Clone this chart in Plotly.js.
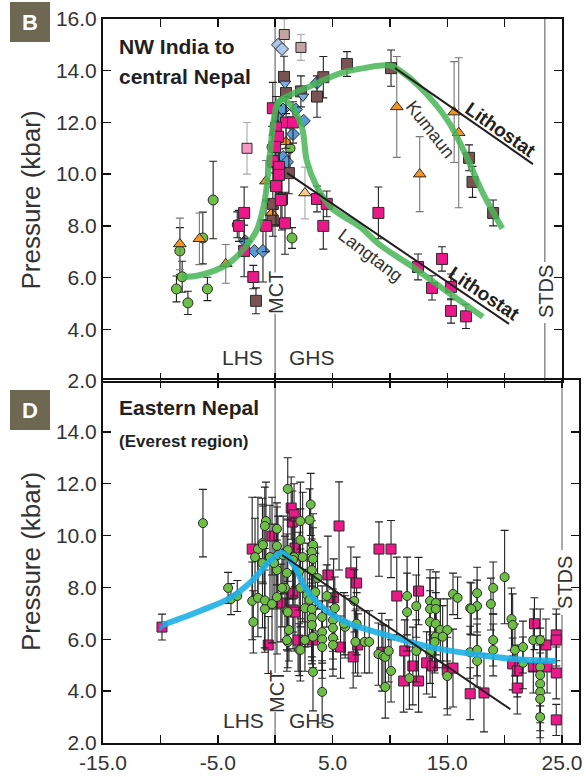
<!DOCTYPE html>
<html><head><meta charset="utf-8">
<script src="https://cdn.plot.ly/plotly-3.0.1.min.js"></script>
<style>html,body{margin:0;padding:0;background:#fff}#chart{width:586px;height:777px}</style>
</head><body><div id="chart"></div>
<script>
// ---------------- Panel B (NW India to central Nepal) ----------------
const bGreenX = [-8.6,-8.1,-8.3,-7.6,-5.9,-6.3,-5.4,-3.3,1.47,-0.27,1.3];
const bGreenY = [5.56,6.03,7.03,5.02,5.56,7.53,9.0,8.04,7.53,11.05,11.0];
const bGreenE = [0.5,0.6,0.9,0.45,0.45,1.0,1.5,0.5,0.4,0.8,0.8];

const bMagX = [-2.7,-3.15,-2.7,-1.9,-0.8,0.07,0.6,0.86,3.65,4.5,4.2,9.0,12.45,14.54,13.67,15.33,15.33,16.63,
               -0.2,0.95,1.56,0.07,0.25,0.0,-0.2,0.34,0.34,0.5];
const bMagY = [8.5,8.0,7.03,6.02,8.0,9.54,9.04,8.1,9.04,8.85,8.0,8.5,6.41,6.72,5.6,5.64,4.71,4.5,
               12.55,12.0,12.0,11.8,11.45,11.05,10.5,10.28,9.97,9.0];
const bMagE = [1.0,0.6,1.0,0.45,1.0,1.5,1.2,1.2,0.5,0.5,0.9,1.0,0.5,0.47,0.47,0.5,0.47,0.47,
               1.0,1.0,0.8,1.2,1.2,1.0,1.0,1.0,1.0,1.0];

const bBrownX = [6.26,10.1,4.2,3.65,2.25,0.77,0.95,1.2,-0.2,-0.2,-1.67,16.9,17.2,19.0];
const bBrownY = [14.26,14.1,13.75,13.0,13.2,13.76,13.14,10.04,8.85,8.2,5.1,10.63,9.7,8.5];
const bBrownE = [0.48,0.7,0.8,0.8,0.6,0.8,0.8,0.8,0.8,0.6,0.5,0.5,0.6,0.5];

const bOrangeX = [10.6,15.6,16.0,12.6,0.95,-0.8,-0.3,-8.3,-6.6,-4.3];
const bOrangeY = [12.6,12.4,11.6,10.0,11.25,9.73,8.5,7.3,7.5,6.53];
const bOrangeE = [1.95,1.95,2.9,1.45,0.8,0.8,0.5,1.0,1.0,0.75];

const bDiamondX = [3.65,0.69,1.8,2.5,0.4,1.56,0.7,1.03,-2.6,-1.8,-1.06];
const bDiamondY = [13.53,12.5,12.5,12.06,12.1,11.55,10.66,10.47,7.4,7.03,7.03];
const bDiamondE = [0,0,0,0,0,0,0,0,0,0,1.2];

const bDownTriX = [0.86,2.43];
const bDownTriY = [13.5,13.0];

const bPaleSqX = [-2.45];  const bPaleSqY = [11.0];  const bPaleSqE = [1.0];
const bPaleBrX = [0.8,2.25]; const bPaleBrY = [15.4,14.9]; const bPaleBrE = [0.6,0.5];
const bPaleDiaX = [0.25,0.6]; const bPaleDiaY = [15.0,14.84];
const bPaleTriX = [2.6]; const bPaleTriY = [9.27]; const bPaleTriE = [1.0];

const kumaunX = [-8.1,-6.5,-4.2,-2.8,-1.6,-0.9,-0.45,-0.2,0.25,1.3,3.3,5.65,7.7,10.0,11.2,12.6,15.0,16.7,18.1,19.8];
const kumaunY = [6.02,6.1,6.5,7.07,7.84,9.0,10.8,11.8,12.75,13.06,13.45,13.9,14.1,14.2,13.9,13.37,12.1,10.66,9.27,7.9];
const langtangX = [0.0,0.6,1.47,2.34,2.77,3.65,4.9,7.4,9.14,12.0,15.0,18.1];
const langtangY = [12.5,12.9,12.6,11.8,10.5,9.5,8.7,7.96,7.26,6.41,5.45,4.48];
const lithKumaunX = [10.45,22.47]; const lithKumaunY = [14.1,10.39];
const lithLangX = [1.03,20.38];    const lithLangY = [10.05,4.21];

// ---------------- Panel D (Eastern Nepal, Everest region) ----------------
const dGreenX = [-6.29,-4.1,-3.85,-3.3,-2.0,-1.9,-1.5,-0.9,-0.9,-0.27,0.16,0.16,0.86,1.03,1.1,2.1,1.1,3.1,3.0,2.2,
  -0.8,-0.9,0.16,-1.1,-1.5,-1.75,-1.1,1.1,3.3,3.2,2.2,-0.45,0.25,1.65,2.4,3.3,-0.1,1.03,2.1,3.2,
  3.7,4.5,0.6,2.2,2.8,3.5,3.0,1.1,2.6,3.2,4.1,5.04,3.2,3.2,5.04,4.1,2.6,4.1,5.04,4.1,
  5.04,2.2,3.3,4.1,-1.06,0.16,1.56,0.7,6.9,5.2,6.1,11.5,12.3,11.5,13.5,14.0,13.5,14.0,13.5,14.0,
  14.4,15.0,14.0,14.6,13.9,15.5,15.9,17.0,17.6,17.6,17.0,17.6,7.8,8.2,7.0,9.0,9.4,9.6,9.9,9.6,
  10.1,12.3,11.7,15.0,13.5,20.0,19.0,18.8,20.6,20.7,22.5,23.1,19.0,19.0,20.9,21.6,17.6,21.6,23.1,23.1,
  23.1,23.1,23.1,23.1,17.1,7.1,6.0,3.3,1.03,1.2];
const dGreenY = [10.48,7.98,7.55,7.67,7.48,6.67,7.6,7.17,7.5,7.36,7.63,8.67,7.98,7.09,5.9,5.6,11.8,11.2,10.6,10.56,
  10.56,10.37,10.26,9.71,9.48,9.17,8.94,9.44,9.64,9.37,9.83,9.17,9.25,9.17,9.17,9.1,8.94,8.56,8.63,8.67,
  8.36,7.67,7.98,7.98,7.71,7.82,7.52,7.05,7.2,7.17,6.86,6.74,6.82,6.55,6.44,6.28,5.97,6.0,6.05,5.7,
  5.78,5.59,4.74,3.97,9.64,9.6,9.06,9.25,7.48,7.2,6.48,7.67,7.28,7.05,7.48,7.4,7.17,7.17,6.67,6.6,
  6.36,6.36,6.1,6.1,5.9,7.75,7.6,7.2,7.28,7.78,5.5,5.16,5.9,5.9,5.9,5.43,5.36,5.32,5.55,4.16,
  4.78,5.55,4.5,4.58,5.5,8.4,7.98,7.36,6.78,6.55,5.97,5.97,5.97,5.59,5.59,5.7,5.59,5.09,4.93,4.62,
  4.28,3.97,3.7,3.0,7.17,6.6,6.6,6.1,5.97,6.36];
const dGreenE = [1.3,0.6,0.6,0.6,1.5,1.2,1.5,1.5,2.0,1.5,2.2,1.5,2.0,1.5,1.0,1.0,1.2,1.2,1.2,1.5,
  1.5,1.5,1.0,1.5,2.0,1.5,2.5,1.2,1.2,1.2,1.2,2.0,1.5,1.5,2.5,1.2,1.5,1.5,1.5,1.2,
  1.2,1.2,1.5,1.5,2.0,1.5,1.5,1.5,1.5,2.0,1.2,1.2,1.5,1.5,1.2,1.2,1.2,1.2,1.2,1.2,
  1.2,1.2,1.5,1.2,1.5,1.5,1.5,1.5,1.2,1.2,1.2,1.5,1.2,1.5,1.2,1.2,1.2,1.2,1.2,1.2,
  1.2,1.2,1.2,1.2,1.2,0.8,0.8,1.0,1.0,1.0,1.0,1.0,1.2,1.2,1.2,1.2,1.2,1.2,1.2,1.2,
  1.2,1.2,1.2,1.5,1.2,1.8,1.0,1.0,1.2,1.2,1.2,1.2,1.0,1.0,1.0,1.0,1.0,1.0,1.5,1.5,
  1.5,1.5,1.5,1.2,1.0,1.2,1.2,1.2,1.2,1.2];

const dMagX = [-9.86,-0.6,0.5,1.56,1.56,2.0,1.4,1.65,1.5,-0.27,-2.0,1.73,4.6,5.1,5.57,1.73,3.3,5.7,9.05,10.1,
  6.6,7.1,10.6,12.5,6.8,7.2,9.3,11.3,12.0,11.2,12.5,13.2,13.7,15.0,15.5,17.0,18.2,22.6,23.6,24.5,
  24.5,20.7,21.1,22.5,23.7,24.5,24.5,21.1];
const dMagY = [6.47,5.78,7.4,7.13,7.78,5.97,11.06,10.8,10.52,9.98,9.48,9.52,8.48,7.6,10.37,7.05,5.97,5.7,9.48,9.48,
  8.56,8.17,7.67,7.86,5.32,5.78,5.5,5.55,4.97,4.39,4.39,5.09,4.97,4.82,4.89,3.9,3.93,6.6,5.78,6.17,
  5.97,5.05,4.78,4.93,4.93,4.7,2.89,4.12];
const dMagE = [0.5,1.1,1.5,1.5,1.5,1.2,1.2,1.2,1.2,1.5,2.0,1.5,1.5,1.5,1.7,1.5,1.2,1.2,1.05,1.1,
  1.0,1.0,1.5,1.3,1.2,1.2,1.5,1.2,1.5,1.2,1.2,1.2,1.2,1.5,1.5,1.0,1.5,1.0,1.0,1.0,
  1.0,1.0,1.0,1.0,1.0,1.0,0.6,1.0];
const dBlueHalfX = [-9.86]; const dBlueHalfY = [6.47];

const dCurveX = [-9.8,-6.5,-3.9,-1.9,-0.6,0.6,1.7,2.6,3.6,4.8,6.5,9.1,13.5,17.9,20.7,24.5];
const dCurveY = [6.55,7.1,7.6,8.3,8.95,9.33,8.8,8.0,7.45,7.0,6.6,6.24,5.7,5.39,5.24,5.16];
const dLithX = [0.6,20.5]; const dLithY = [9.25,3.3];

const xTickVals = [-15,-10,-5,0,5,10,15,20,25];
const xTickText = ['-15.0','','-5.0','','5.0','','15.0','','25.0'];

// ---------------- build ----------------
const OUT = '#2b2b2b';
function pts(x, y, e, xa, ya, symbol, color, size, ecolor) {
  const t = {x, y, xaxis: xa, yaxis: ya, type: 'scatter', mode: 'markers', hoverinfo: 'x+y',
    marker: {symbol, color, size, line: {color: OUT, width: 1}}};
  if (e) t.error_y = {type: 'data', array: e, visible: true, color: ecolor || '#222', thickness: 1.1, width: 4};
  return t;
}
function line(x, y, xa, ya, color, width, shape) {
  return {x, y, xaxis: xa, yaxis: ya, type: 'scatter', mode: 'lines', hoverinfo: 'skip',
    line: {color, width, shape: shape || 'linear', smoothing: 1}};
}
const GREEN = '#6dbe45', MAG = '#ea1889', BROWN = '#7a5252', ORANGE = '#f7941d', BLUE = '#5b9bd5';
const traces = [
  pts(bPaleSqX, bPaleSqY, bPaleSqE, 'x', 'y', 'square', '#f49ac1', 10, '#aaa'),
  pts(bPaleBrX, bPaleBrY, bPaleBrE, 'x', 'y', 'square', '#c4a3a3', 10, '#aaa'),
  pts(bPaleDiaX, bPaleDiaY, null, 'x', 'y', 'diamond', '#aec8ea', 10),
  pts(bPaleTriX, bPaleTriY, bPaleTriE, 'x', 'y', 'triangle-up', '#fcc98c', 11, '#aaa'),
  pts(bGreenX, bGreenY, bGreenE, 'x', 'y', 'circle', GREEN, 10),
  pts(bOrangeX, bOrangeY, bOrangeE, 'x', 'y', 'triangle-up', ORANGE, 11, '#777'),
  pts(bDiamondX, bDiamondY, bDiamondE, 'x', 'y', 'diamond', BLUE, 10),
  pts(bBrownX, bBrownY, bBrownE, 'x', 'y', 'square', BROWN, 11),
  pts(bMagX, bMagY, bMagE, 'x', 'y', 'square', MAG, 11),
  pts(bDownTriX, bDownTriY, null, 'x', 'y', 'triangle-down', '#7ab0e6', 10),
  line(kumaunX, kumaunY, 'x', 'y', 'rgba(72,181,85,0.85)', 6, 'spline'),
  line(langtangX, langtangY, 'x', 'y', 'rgba(72,181,85,0.85)', 6, 'spline'),
  line(lithKumaunX, lithKumaunY, 'x', 'y', '#231f20', 2),
  line(lithLangX, lithLangY, 'x', 'y', '#231f20', 2),
  pts(dMagX, dMagY, dMagE, 'x2', 'y2', 'square', MAG, 10),
  pts(dBlueHalfX, dBlueHalfY, null, 'x2', 'y2', 'triangle-nw', '#3f8fd0', 8),
  pts(dGreenX, dGreenY, dGreenE, 'x2', 'y2', 'circle', GREEN, 9),
  line(dCurveX, dCurveY, 'x2', 'y2', 'rgba(30,176,230,0.9)', 6, 'spline'),
  line(dLithX, dLithY, 'x2', 'y2', '#231f20', 2)
];
traces[15].marker.line.width = 0;

const PX = x => (x - 103) / 476, PY = y => (743 - y) / 724;
const FONT = 'Liberation Sans, Arial, Helvetica, sans-serif';
const TXT = '#333';
function ann(text, x, y, size, opts) {
  return Object.assign({text, x: PX(x), y: PY(y), xref: 'paper', yref: 'paper', showarrow: false,
    font: {family: FONT, size, color: TXT}, xanchor: 'center', yanchor: 'middle'}, opts || {});
}
const DARK = '#231f20';
const annotations = [
  ann('<b>NW India to</b>', 117, 46, 21, {xanchor: 'left', font: {family: FONT, size: 21, color: DARK}}),
  ann('<b>central Nepal</b>', 117, 77, 21, {xanchor: 'left', font: {family: FONT, size: 21, color: DARK}}),
  ann('<b>Eastern Nepal</b>', 117, 408, 21, {xanchor: 'left', font: {family: FONT, size: 21, color: DARK}}),
  ann('<b>(Everest region)</b>', 117, 441, 17, {xanchor: 'left', font: {family: FONT, size: 17, color: DARK}}),
  ann('<b>B</b>', 30, 22, 22, {font: {family: FONT, size: 22, color: '#fff'}}),
  ann('<b>D</b>', 30, 410, 22, {font: {family: FONT, size: 22, color: '#fff'}}),
  ann('MCT', 276, 293, 20, {textangle: -90}),
  ann('STDS', 546, 292, 20, {textangle: -90}),
  ann('LHS', 242, 357, 21), ann('GHS', 312, 357, 21),
  ann('MCT', 277, 692, 20, {textangle: -90}),
  ann('STDS', 565, 583, 20, {textangle: -90}),
  ann('LHS', 243, 720, 21), ann('GHS', 312, 720, 21),
  ann('Kumaun', 430, 129, 18, {textangle: 52}),
  ann('Langtang', 370, 255, 18, {textangle: 37}),
  ann('<b>Lithostat</b>', 500, 130, 19, {textangle: 35, font: {family: FONT, size: 19, color: DARK}}),
  ann('<b>Lithostat</b>', 484, 293, 19, {textangle: 34, font: {family: FONT, size: 19, color: DARK}})
];
const GRAY = '#8c8c8c';
function vseg(xa, ya, x, y0, y1) {
  return {type: 'line', xref: xa, yref: ya, x0: x, x1: x, y0, y1, line: {color: GRAY, width: 1.5}, layer: 'below'};
}
const shapes = [
  {type: 'rect', xref: 'paper', yref: 'paper', x0: PX(10), x1: PX(50), y0: PY(42), y1: PY(2), fillcolor: '#6e6752', line: {width: 0}},
  {type: 'rect', xref: 'paper', yref: 'paper', x0: PX(10), x1: PX(50), y0: PY(430), y1: PY(390), fillcolor: '#6e6752', line: {width: 0}},
  vseg('x', 'y', 0, 16, 6.2), vseg('x', 'y', 0, 4.6, 2),
  vseg('x', 'y', 23.5, 16, 6.6), vseg('x', 'y', 23.5, 4.24, 2),
  vseg('x2', 'y2', 0, 16, 4.7), vseg('x2', 'y2', 0, 3.2, 2),
  vseg('x2', 'y2', 25, 16, 9.44), vseg('x2', 'y2', 25, 6.94, 2)
];
const axBase = {showline: true, linecolor: '#111', linewidth: 2, mirror: 'allticks', ticks: 'inside',
  ticklen: 8, tickwidth: 1.5, tickcolor: '#111', showgrid: false, zeroline: false,
  tickfont: {family: FONT, size: 21, color: TXT}};
const layout = {
  width: 586, height: 777, autosize: false, showlegend: false,
  margin: {l: 103, r: 7, t: 19, b: 34}, paper_bgcolor: '#fff', plot_bgcolor: 'rgba(0,0,0,0)',
  xaxis: Object.assign({}, axBase, {domain: [0, 459 / 476], range: [-15, 25], anchor: 'y',
    tickmode: 'array', tickvals: xTickVals, showticklabels: false}),
  yaxis: Object.assign({}, axBase, {domain: [0.5, 1], range: [2, 16], anchor: 'x',
    tickmode: 'array', tickvals: [2, 4, 6, 8, 10, 12, 14, 16], tickformat: '.1f',
    title: {text: 'Pressure (kbar)', font: {family: FONT, size: 26, color: TXT}, standoff: 8}}),
  xaxis2: Object.assign({}, axBase, {domain: [0, 1], range: [-15, 25 + 17 / 11.475], anchor: 'y2',
    tickmode: 'array', tickvals: xTickVals, ticktext: xTickText}),
  yaxis2: Object.assign({}, axBase, {domain: [0, 363 / 724], range: [2, 16], anchor: 'x2',
    tickmode: 'array', tickvals: [2, 4, 6, 8, 10, 12, 14, 16], ticktext: ['2.0','4.0','6.0','8.0','10.0','12.0','14.0',''],
    title: {text: 'Pressure (kbar)', font: {family: FONT, size: 26, color: TXT}, standoff: 8}}),
  annotations, shapes
};
Plotly.newPlot('chart', traces, layout, {displayModeBar: false, staticPlot: true});
</script></body></html>
